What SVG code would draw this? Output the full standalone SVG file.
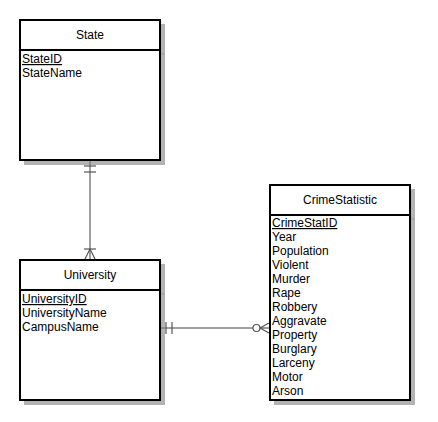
<svg xmlns="http://www.w3.org/2000/svg" width="438" height="422" viewBox="0 0 438 422">
<style>
.shadow{fill:#b3b3b3;stroke:none}
.box{fill:#fff;stroke:#000;stroke-width:2}
.div{stroke:#000;stroke-width:2}
.divs{stroke:#999;stroke-width:1}
.t{font-family:"Liberation Sans",Arial,sans-serif;font-size:12px;fill:#000}
.title{text-anchor:middle}
.pk{text-decoration:underline}
.conn{fill:none;stroke:#808080;stroke-width:1.5}
.mark{fill:none;stroke:#555;stroke-width:1.2}
</style>
<rect width="438" height="422" fill="#fff"/>
<g id="State">
<rect class="shadow" x="24" y="24" width="141" height="141"/>
<line class="divs" x1="160" y1="54" x2="165" y2="54"/>
<rect class="box" x="20" y="20" width="140" height="140"/>
<line class="div" x1="20" y1="50" x2="160" y2="50"/>
<text class="t title" x="90" y="39">State</text>
<text class="t pk" x="22" y="63">StateID</text>
<text class="t" x="22" y="77">StateName</text>
</g>
<g id="University">
<rect class="shadow" x="24" y="264" width="141" height="141"/>
<line class="divs" x1="160" y1="294" x2="165" y2="294"/>
<rect class="box" x="20" y="260" width="140" height="140"/>
<line class="div" x1="20" y1="290" x2="160" y2="290"/>
<text class="t title" x="90" y="279">University</text>
<text class="t pk" x="22" y="303">UniversityID</text>
<text class="t" x="22" y="317">UniversityName</text>
<text class="t" x="22" y="331">CampusName</text>
</g>
<g id="CrimeStatistic">
<rect class="shadow" x="274" y="189" width="141" height="216"/>
<line class="divs" x1="410" y1="219" x2="415" y2="219"/>
<rect class="box" x="270" y="185" width="140" height="215"/>
<line class="div" x1="270" y1="215" x2="410" y2="215"/>
<text class="t title" x="340" y="204">CrimeStatistic</text>
<text class="t pk" x="272" y="227">CrimeStatID</text>
<text class="t" x="272" y="241">Year</text>
<text class="t" x="272" y="255">Population</text>
<text class="t" x="272" y="269">Violent</text>
<text class="t" x="272" y="283">Murder</text>
<text class="t" x="272" y="297">Rape</text>
<text class="t" x="272" y="311">Robbery</text>
<text class="t" x="272" y="325">Aggravate</text>
<text class="t" x="272" y="339">Property</text>
<text class="t" x="272" y="353">Burglary</text>
<text class="t" x="272" y="367">Larceny</text>
<text class="t" x="272" y="381">Motor</text>
<text class="t" x="272" y="395">Arson</text>
</g>
<g id="connectors">
<line class="conn" x1="90" y1="161" x2="90" y2="259"/>
<line class="mark" x1="84" y1="166" x2="96" y2="166"/>
<line class="mark" x1="84" y1="172" x2="96" y2="172"/>
<line class="mark" x1="84" y1="249" x2="96" y2="249"/>
<path class="mark" d="M85 259 L90 249 L95 259"/>
<line class="conn" x1="161" y1="328" x2="253" y2="328"/>
<line class="mark" x1="166" y1="322" x2="166" y2="334"/>
<line class="mark" x1="172" y1="322" x2="172" y2="334"/>
<circle class="mark" cx="256.5" cy="328" r="3.5" fill="#fff"/>
<path class="mark" d="M269 323 L260 328 L269 333"/>
<line class="mark" x1="260" y1="328" x2="269" y2="328"/>
</g>
</svg>
